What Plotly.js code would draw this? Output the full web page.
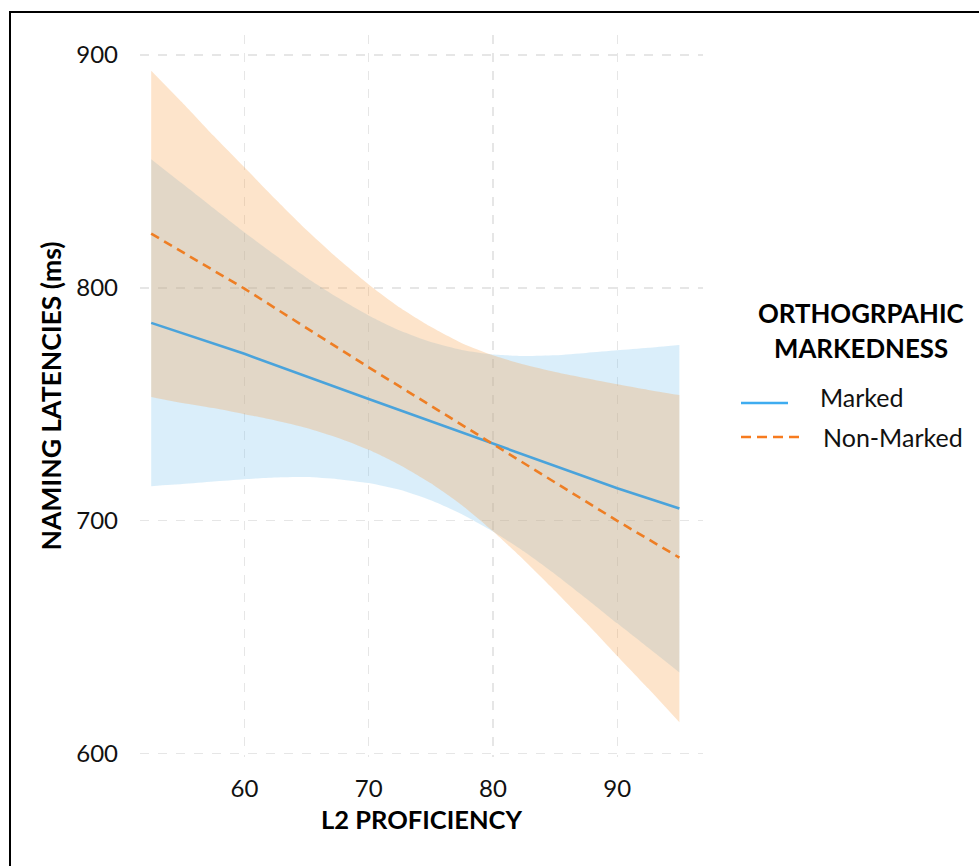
<!DOCTYPE html>
<html>
<head>
<meta charset="utf-8">
<script src="https://cdn.plot.ly/plotly-3.0.1.min.js"></script>
<style>
html,body{margin:0;padding:0;background:#fff;overflow:hidden;}
#chart{width:979px;height:866px;}
#frame{position:absolute;left:9px;top:11px;width:1000px;height:900px;border:2.5px solid #000;pointer-events:none;}
</style>
</head>
<body>
<div id="chart"></div>
<div id="frame"></div>
<script>
// L2 proficiency grid at which the confidence bands were read
const bandX = [52.5, 55, 57.5, 60, 62.5, 65, 67.5, 70, 72.5, 75, 77.5, 80, 82.5, 85, 87.5, 90, 92.5, 95];
// Marked (blue) confidence band
const markedUpper = [855.3, 844.8, 834.3, 823.9, 814.0, 804.4, 795.9, 788.2, 781.7, 776.8, 773.4, 771.4, 770.8, 771.1, 772.1, 773.2, 774.3, 775.5];
const markedLower = [714.9, 715.8, 716.9, 717.9, 718.6, 718.8, 717.9, 716.2, 713.3, 708.8, 702.8, 695.4, 686.8, 677.1, 666.7, 656.0, 645.5, 634.9];
// Non-Marked (orange) confidence band
const nonMarkedUpper = [893.3, 879.6, 865.4, 851.8, 838.1, 824.9, 812.7, 801.5, 791.6, 783.3, 776.3, 771.1, 767.1, 763.9, 761.2, 758.6, 756.2, 754.0];
const nonMarkedLower = [753.2, 750.6, 748.4, 745.8, 743.1, 739.9, 735.7, 730.5, 724.0, 716.1, 706.7, 695.5, 683.1, 669.9, 656.2, 642.0, 628.0, 613.5];
// Fitted lines
const lineX = [52.5, 60, 70, 80, 90, 95];
const markedFit = [785.0, 771.7, 752.3, 733.0, 714.0, 705.3];
const nonMarkedFit = [823.3, 799.7, 765.9, 733.0, 700.0, 684.2];
// Axis ticks
const xTicks = [60, 70, 80, 90];
const yTicks = [600, 700, 800, 900];
const legendTitle = ["ORTHOGRPAHIC", "MARKEDNESS"];
const seriesNames = ["Marked", "Non-Marked"];

const BLUE = "#4AA3DB", ORANGE = "#EE7E24";
const FONT = "Lato, 'Open Sans', sans-serif";

const traces = [
  {x: bandX, y: markedLower, type: "scatter", mode: "lines", line: {width: 0, color: BLUE, shape: "spline", smoothing: 0.6}, showlegend: false, hoverinfo: "skip"},
  {x: bandX, y: markedUpper, type: "scatter", mode: "lines", line: {width: 0, color: BLUE, shape: "spline", smoothing: 0.6}, fill: "tonexty", fillcolor: "rgba(123,194,237,0.28)", showlegend: false, hoverinfo: "skip"},
  {x: bandX, y: nonMarkedLower, type: "scatter", mode: "lines", line: {width: 0, color: ORANGE, shape: "spline", smoothing: 0.6}, showlegend: false, hoverinfo: "skip"},
  {x: bandX, y: nonMarkedUpper, type: "scatter", mode: "lines", line: {width: 0, color: ORANGE, shape: "spline", smoothing: 0.6}, fill: "tonexty", fillcolor: "rgba(248,159,69,0.28)", showlegend: false, hoverinfo: "skip"},
  {x: lineX, y: markedFit, type: "scatter", mode: "lines", name: seriesNames[0], line: {color: BLUE, width: 2.6}, showlegend: false},
  {x: lineX, y: nonMarkedFit, type: "scatter", mode: "lines", name: seriesNames[1], line: {color: ORANGE, width: 2.6, dash: "9px,6px"}, showlegend: false}
];

// legend drawn with annotations and shapes in paper coordinates
const L = 140, R = 703, T = 35, B = 757;
const px = v => (v - L) / (R - L);
const py = v => (B - v) / (B - T);

const layout = {
  width: 979, height: 866,
  margin: {l: L, r: 979 - R, t: T, b: 866 - B},
  paper_bgcolor: "#fff", plot_bgcolor: "#fff",
  font: {family: FONT, color: "#111"},
  showlegend: false,
  xaxis: {
    range: [51.6, 96.9], tickvals: xTicks, ticktext: xTicks.map(String),
    showgrid: true, gridcolor: "#E6E6E6", gridwidth: 1.3, griddash: "dash",
    zeroline: false, showline: false, ticks: "", ticklabelstandoff: 15,
    tickfont: {family: FONT, size: 24, color: "#111"},
    title: {text: "L2 PROFICIENCY", font: {family: FONT, size: 25.5, color: "#000", weight: "bold"}, standoff: 10}
  },
  yaxis: {
    range: [598.6, 908.6], tickvals: yTicks, ticktext: yTicks.map(String),
    showgrid: true, gridcolor: "#E6E6E6", gridwidth: 1.3, griddash: "dash",
    zeroline: false, showline: false, ticks: "", ticklabelstandoff: 21,
    tickfont: {family: FONT, size: 24, color: "#111"},
    title: {text: "NAMING LATENCIES (ms)", font: {family: FONT, size: 26.5, color: "#000", weight: "bold"}, standoff: 6}
  },
  annotations: [
    {xref: "paper", yref: "paper", x: px(861), y: py(313), text: legendTitle[0], showarrow: false, xanchor: "center", yanchor: "middle", font: {family: FONT, size: 25.8, color: "#000", weight: "bold"}},
    {xref: "paper", yref: "paper", x: px(861), y: py(348), text: legendTitle[1], showarrow: false, xanchor: "center", yanchor: "middle", font: {family: FONT, size: 25.8, color: "#000", weight: "bold"}},
    {xref: "paper", yref: "paper", x: px(818), y: py(397), text: seriesNames[0], showarrow: false, xanchor: "left", yanchor: "middle", font: {family: FONT, size: 25, color: "#111"}},
    {xref: "paper", yref: "paper", x: px(821), y: py(437), text: seriesNames[1], showarrow: false, xanchor: "left", yanchor: "middle", font: {family: FONT, size: 25, color: "#111"}}
  ],
  shapes: [
    {type: "line", xref: "paper", yref: "paper", x0: px(741), x1: px(788), y0: py(403), y1: py(403), line: {color: "#3EACF0", width: 2.6}},
    {type: "line", xref: "paper", yref: "paper", x0: px(741), x1: px(800), y0: py(437), y1: py(437), line: {color: "#F77B1F", width: 2.6, dash: "10px,6px"}}
  ]
};

Plotly.newPlot("chart", traces, layout, {staticPlot: true, displayModeBar: false});
</script>
</body>
</html>
